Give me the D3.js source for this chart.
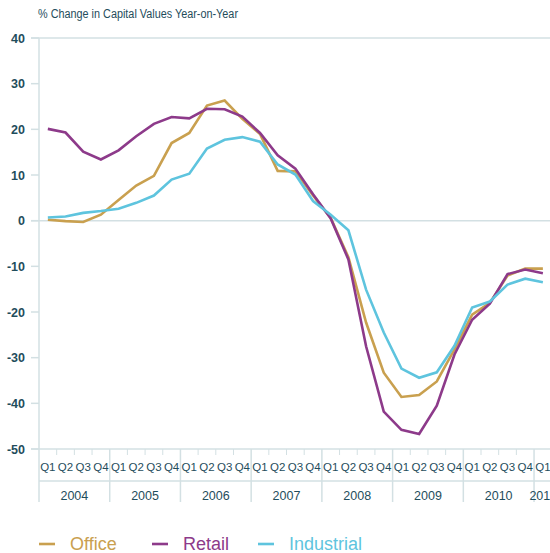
<!DOCTYPE html>
<html>
<head>
<meta charset="utf-8">
<script src="https://cdn.jsdelivr.net/npm/d3@7/dist/d3.min.js"></script>
<style>
  body { margin: 0; background: #fff; }
  svg { display: block; font-family: "Liberation Sans", Arial, sans-serif; }
</style>
</head>
<body>
<div id="chart"></div>
<script>
// years / quarters on the x axis
const years = ["2004", "2005", "2006", "2007", "2008", "2009", "2010", "2011"];
const quarters = ["Q1", "Q2", "Q3", "Q4"];
const yTicks = [40, 30, 20, 10, 0, -10, -20, -30, -40, -50];

// % change in capital values, 2004 Q1 .. 2011 Q1
const office = [0.2, -0.1, -0.3, 1.3, 4.5, 7.7, 9.8, 17.0, 19.2, 25.2, 26.3, 22.3, 19.0, 10.9, 10.8, 5.5,
  0.6, -8.0, -22.3, -33.3, -38.6, -38.2, -35.2, -28.2, -20.6, -18.0, -12.0, -10.5, -10.5];
const retail = [20.1, 19.3, 15.1, 13.4, 15.4, 18.5, 21.2, 22.7, 22.4, 24.5, 24.4, 22.8, 19.2, 14.3, 11.4, 5.8,
  0.5, -8.5, -27.5, -41.8, -45.8, -46.7, -40.5, -29.3, -21.7, -18.2, -11.7, -10.7, -11.5];
const industrial = [0.7, 0.9, 1.7, 2.1, 2.6, 3.9, 5.5, 9.0, 10.3, 15.8, 17.7, 18.3, 17.3, 12.3, 10.1, 4.3,
  1.3, -2.1, -15.1, -24.5, -32.4, -34.4, -33.2, -27.4, -19.0, -17.7, -14.0, -12.7, -13.5];

const series = [
  {name: "Office", values: office, color: "#c9a04f"},
  {name: "Retail", values: retail, color: "#8d3a8a"},
  {name: "Industrial", values: industrial, color: "#5ec4de"}
];

// build the period list from years x quarters, cut to the data length
const periods = [];
years.forEach(y => quarters.forEach(q => periods.push({year: y, q: q, key: y + " " + q})));
periods.length = office.length;

const width = 550, height = 553;
const plotLeft = 39, plotTop = 38, plotBottom = 449;
const band = 17.68;

const textColor = "#1f4d5c";
const lineColor = "#d3e0e3";

const svg = d3.select("#chart").append("svg")
  .attr("width", width)
  .attr("height", height);

const x = d3.scaleBand()
  .domain(periods.map(d => d.key))
  .range([plotLeft, plotLeft + band * periods.length])
  .padding(0);

const y = d3.scaleLinear()
  .domain([-50, 40])
  .range([plotBottom, plotTop]);

const cx = k => x(k) + x.bandwidth() / 2;

// title
svg.append("text")
  .attr("x", 38)
  .attr("y", 18)
  .attr("fill", textColor)
  .attr("font-size", 12)
  .attr("textLength", 200)
  .attr("lengthAdjust", "spacingAndGlyphs")
  .text("% Change in Capital Values Year-on-Year");

// y axis ticks and labels
const yAxis = svg.append("g");
yAxis.selectAll("line.tick")
  .data(yTicks)
  .enter().append("line")
  .attr("x1", 31).attr("x2", plotLeft)
  .attr("y1", d => y(d)).attr("y2", d => y(d))
  .attr("stroke", lineColor).attr("stroke-width", 1.5);

yAxis.selectAll("text")
  .data(yTicks)
  .enter().append("text")
  .attr("x", 25)
  .attr("y", d => y(d) + 4.5)
  .attr("text-anchor", "end")
  .attr("font-size", 12.5)
  .attr("font-weight", "bold")
  .attr("fill", textColor)
  .text(d => d);

// gridlines at 40, 0 and -50
svg.selectAll("line.grid")
  .data([40, 0, -50])
  .enter().append("line")
  .attr("x1", 31).attr("x2", width)
  .attr("y1", d => y(d)).attr("y2", d => y(d))
  .attr("stroke", lineColor).attr("stroke-width", 1.5);

// vertical axis line
svg.append("line")
  .attr("x1", plotLeft).attr("x2", plotLeft)
  .attr("y1", plotTop).attr("y2", 502)
  .attr("stroke", lineColor).attr("stroke-width", 1.5);

// quarter ticks between quarters
svg.selectAll("line.qtick")
  .data(periods.filter(d => d.q !== "Q1"))
  .enter().append("line")
  .attr("x1", d => x(d.key)).attr("x2", d => x(d.key))
  .attr("y1", plotBottom).attr("y2", 455)
  .attr("stroke", lineColor).attr("stroke-width", 1);

// year separators
svg.selectAll("line.ysep")
  .data(periods.filter(d => d.q === "Q1" && d.year !== years[0]))
  .enter().append("line")
  .attr("x1", d => x(d.key)).attr("x2", d => x(d.key))
  .attr("y1", plotBottom).attr("y2", 502)
  .attr("stroke", lineColor).attr("stroke-width", 1.5);

// line between quarter row and year row
svg.append("line")
  .attr("x1", plotLeft).attr("x2", width)
  .attr("y1", 481).attr("y2", 481)
  .attr("stroke", lineColor).attr("stroke-width", 1.5);

// quarter labels
svg.selectAll("text.q")
  .data(periods)
  .enter().append("text")
  .attr("x", d => cx(d.key))
  .attr("y", 471)
  .attr("text-anchor", "middle")
  .attr("font-size", 11.5)
  .attr("fill", textColor)
  .text(d => d.q);

// year labels, centered on the quarters present
const yearGroups = d3.groups(periods, d => d.year);
svg.selectAll("text.yr")
  .data(yearGroups)
  .enter().append("text")
  .attr("x", d => (cx(d[1][0].key) + cx(d[1][d[1].length - 1].key)) / 2)
  .attr("y", 500)
  .attr("text-anchor", "middle")
  .attr("font-size", 12.5)
  .attr("fill", textColor)
  .text(d => d[0]);

// the series lines
const line = d3.line()
  .x((d, i) => cx(periods[i].key))
  .y(d => y(d));

svg.selectAll("path.series")
  .data(series)
  .enter().append("path")
  .attr("d", d => line(d.values))
  .attr("fill", "none")
  .attr("stroke", d => d.color)
  .attr("stroke-width", 2.6)
  .attr("stroke-linejoin", "miter");

// legend
const legendX = [39, 152, 258];
const legend = svg.selectAll("g.legend")
  .data(series)
  .enter().append("g")
  .attr("transform", (d, i) => `translate(${legendX[i]}, 544)`);

legend.append("line")
  .attr("x1", 0).attr("x2", 16)
  .attr("stroke", d => d.color)
  .attr("stroke-width", 2.6);

legend.append("text")
  .attr("x", 31)
  .attr("y", 5.5)
  .attr("font-size", 18)
  .attr("fill", d => d.color)
  .text(d => d.name);
</script>
</body>
</html>
